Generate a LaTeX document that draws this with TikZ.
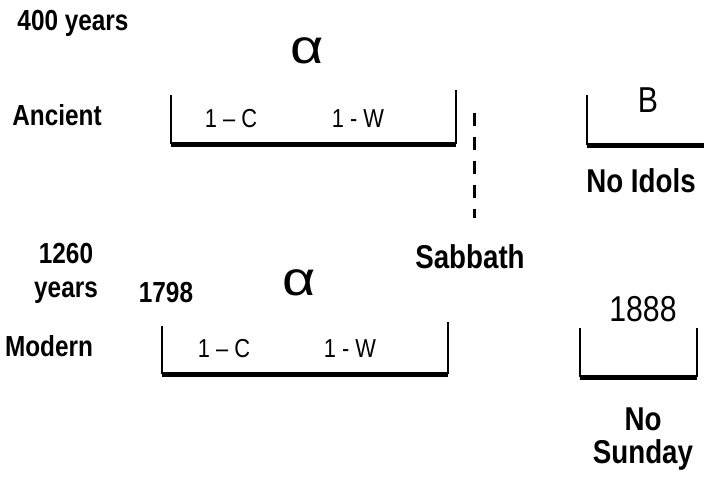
\documentclass[tikz,border=0pt]{standalone}
\usepackage{fontspec}
\setmainfont{Liberation Sans}
\newfontfamily\narrow[FakeStretch=0.84]{Liberation Sans}
\newfontfamily\wide[FakeStretch=1.2]{Liberation Sans}
\usetikzlibrary{positioning}

\tikzset{
  era/.style={font=\narrow\bfseries\fontsize{29}{34}\selectfont, inner sep=0pt, anchor=base, align=center},
  rule/.style={font=\narrow\bfseries\fontsize{33}{33}\selectfont, inner sep=0pt, anchor=base, align=center},
  cw/.style={font=\narrow\fontsize{26}{28}\selectfont, inner sep=0pt, anchor=base},
  greek/.style={font=\wide\fontsize{48}{50}\selectfont, inner sep=0pt, anchor=base},
  big/.style={font=\narrow\fontsize{36}{40}\selectfont, inner sep=0pt, anchor=base},
  side/.style={line width=1.3pt},
  floor/.style={line width=5pt}
}

\begin{document}
\begin{tikzpicture}[x=1pt,y=-1pt]
\useasboundingbox (0,0) rectangle (704,480);

% ancient row
\node [era] (span400) at (73,30) {400 years};
\node [greek] (alphaA) at (307,63) {α};
\node [era] (ancient) at (57,125) {Ancient};
\draw [side] (171,95) -- (171,144);
\draw [side] (456,90) -- (456,144);
\draw [floor] (171,144) -- (456,144);
\node [cw] (cA) at (231,127) {1 – C};
\node [cw] (wA) at (358,127) {1 - W};

% sabbath divider
\coordinate (divtop) at (474,113);
\coordinate (divbot) at (474,218);
\draw [line width=3pt, dash pattern=on 13pt off 11pt] (divtop) -- (divbot);
\node [rule] (sabbath) at (470,268) {Sabbath};

% second commandment, ancient
\draw [side] (587,95) -- (587,145);
\draw [floor] (587,145) -- (704,145);
\node [big] (beta) at (648,112) {B};
\node [rule] (idols) at (641,192) {No Idols};

% modern row
\node [era] (span1260) at (66,297) {1260\\years};
\node [era] (y1798) at (166,302) {1798};
\node [greek] (alphaM) at (299,295) {α};
\node [era] (modern) at (49,356) {Modern};
\draw [side] (162,326) -- (162,374);
\draw [side] (448,322) -- (448,374);
\draw [floor] (162,374) -- (448,374);
\node [cw] (cM) at (224,357) {1 – C};
\node [cw] (wM) at (350,357) {1 - W};

% 1888 bracket
\node [big] (y1888) at (643,321) {1888};
\draw [side] (580,328) -- (580,377);
\draw [side] (697,328) -- (697,377);
\draw [floor] (580,377) -- (697,377);
\node [rule] (sunday) at (643,463) {No\\Sunday};
\end{tikzpicture}
\end{document}
